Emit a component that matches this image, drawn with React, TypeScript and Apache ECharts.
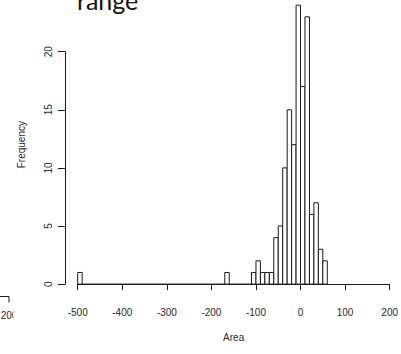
import React, { useEffect, useRef } from "react";
import * as echarts from "echarts";

// Histogram of Area: left edge of each non-empty bin and its count (bins are 10 wide)
const binStarts = [-500, -170, -110, -100, -90, -80, -70, -60, -50, -40, -30, -20, -10, 0, 10, 20, 30, 40, 50];
const binCounts = [1, 1, 1, 2, 1, 1, 1, 4, 5, 10, 15, 12, 24, 17, 23, 6, 7, 3, 2];
const binWidth = 10;
// full span of the breaks; empty bins collapse to a flat line along zero
const breakRange = [-500, 60];
const xTickRange = [-500, 200];
const xTickStep = 100;
const yTickRange = [0, 20];
const yTickStep = 5;
const countMax = 24;

const INK = "#1a1a1a";
const LABEL = "#2a2a2a";
const FONT = "'Liberation Sans', Arial, sans-serif";

export default function App() {
  const ref = useRef<HTMLDivElement>(null);

  useEffect(() => {
    if (!ref.current) return;
    const chart = echarts.init(ref.current, null, { renderer: "svg" });

    const bars = binStarts.map((s, i) => [s, s + binWidth, binCounts[i]]);

    chart.setOption({
      animation: false,
      backgroundColor: "#fff",
      grid: [
        { left: 77.7, right: 8.3, top: 5.2, bottom: 69.9 },
        { left: 65, right: 8.3, top: 51.7, bottom: 69.9 },
      ],
      xAxis: [
        {
          type: "value",
          gridIndex: 0,
          min: xTickRange[0],
          max: xTickRange[1],
          interval: xTickStep,
          offset: 12,
          axisLine: { show: true, lineStyle: { color: INK, width: 1 } },
          axisTick: { show: true, length: 6, lineStyle: { color: INK } },
          axisLabel: { fontSize: 10, color: LABEL, margin: 11, fontFamily: FONT },
          splitLine: { show: false },
          name: "Area",
          nameLocation: "middle",
          nameGap: 36,
          nameTextStyle: { fontSize: 10, color: LABEL, fontFamily: FONT },
        },
        { type: "value", gridIndex: 1, show: false, min: 0, max: 1 },
      ],
      yAxis: [
        {
          type: "value",
          gridIndex: 0,
          min: 0,
          max: countMax,
          axisLine: { show: false },
          axisTick: { show: false },
          axisLabel: { show: false },
          splitLine: { show: false },
          name: "Frequency",
          nameLocation: "middle",
          nameRotate: 90,
          nameGap: 51,
          nameTextStyle: { fontSize: 10, color: LABEL, fontFamily: FONT },
        },
        {
          type: "value",
          gridIndex: 1,
          min: yTickRange[0],
          max: yTickRange[1],
          interval: yTickStep,
          axisLine: { show: true, lineStyle: { color: INK, width: 1 } },
          axisTick: { show: true, length: 7, lineStyle: { color: INK } },
          axisLabel: { fontSize: 10, color: LABEL, margin: 12, rotate: 90, fontFamily: FONT },
          splitLine: { show: false },
        },
      ],
      series: [
        {
          type: "line",
          xAxisIndex: 0,
          yAxisIndex: 0,
          data: [
            [breakRange[0], 0],
            [breakRange[1], 0],
          ],
          symbol: "none",
          lineStyle: { color: INK, width: 1 },
          silent: true,
          z: 1,
        },
        {
          type: "custom",
          xAxisIndex: 0,
          yAxisIndex: 0,
          data: bars,
          encode: { x: [0, 1], y: 2 },
          z: 2,
          renderItem: (_params: any, api: any) => {
            const x0 = api.value(0);
            const x1 = api.value(1);
            const c = api.value(2);
            const a = api.coord([x0, 0]);
            const b = api.coord([x1, c]);
            return {
              type: "polygon",
              shape: {
                points: [
                  [a[0], a[1]],
                  [a[0], b[1]],
                  [b[0], b[1]],
                  [b[0], a[1]],
                ],
              },
              style: { fill: "#fff", stroke: INK, lineWidth: 1 },
            };
          },
        },
      ],
      graphic: [
        {
          type: "text",
          left: 77,
          top: -13,
          style: { text: "range", font: "25px Lato, sans-serif", fill: "#111" },
        },
        // edge of the neighbouring panel's x axis
        { type: "line", shape: { x1: 0, y1: 296.5, x2: 9, y2: 296.5 }, style: { stroke: INK, lineWidth: 1 } },
        { type: "line", shape: { x1: 9, y1: 296.5, x2: 9, y2: 302.5 }, style: { stroke: INK, lineWidth: 1 } },
        {
          type: "text",
          x: 9,
          y: 310,
          style: { text: "200", fontSize: 10, fontFamily: FONT, fill: LABEL, align: "center", verticalAlign: "top" },
        },
        { type: "rect", shape: { x: 13.5, y: 306, width: 10, height: 16 }, style: { fill: "#fff" }, z: 100 },
      ],
    });

    return () => chart.dispose();
  }, []);

  return (
    <div
      ref={ref}
      style={{ position: "fixed", left: 0, top: 0, width: 401, height: 354, background: "#fff" }}
    />
  );
}
